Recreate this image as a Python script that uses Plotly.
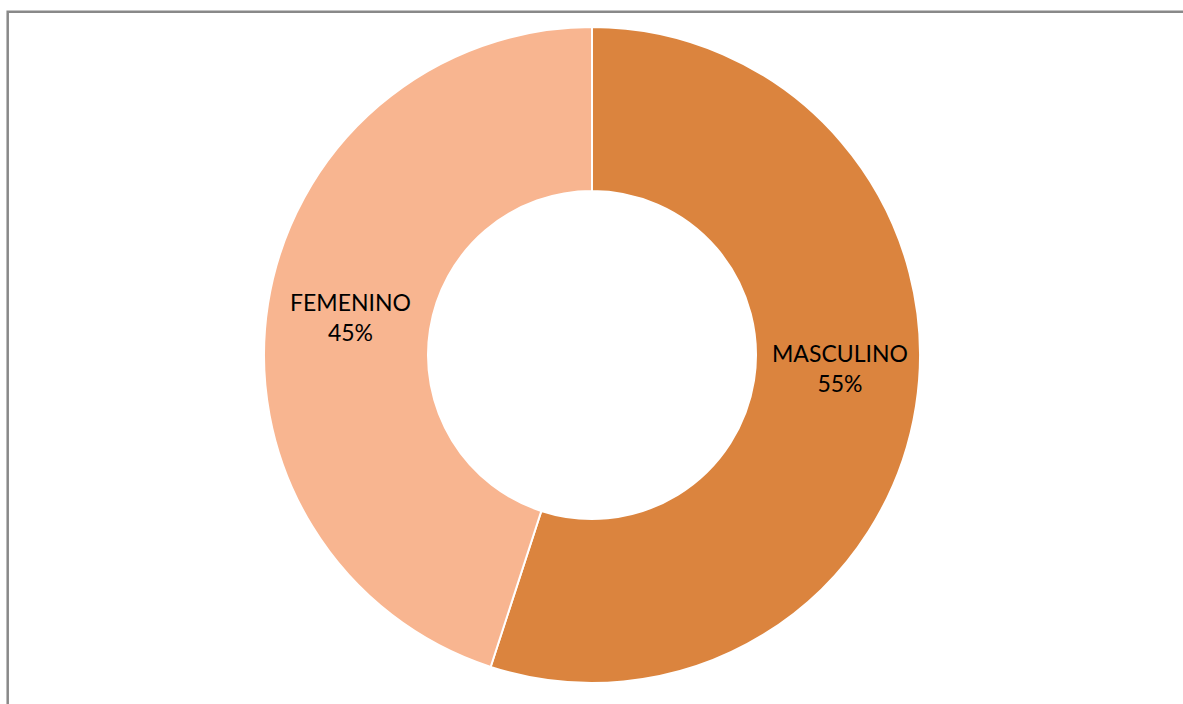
import plotly.graph_objects as go

labels = ["MASCULINO", "FEMENINO"]
values = [55, 45]
colors = ["#DB843E", "#F8B590"]
# label anchor positions (pixel centres in the 1183x704 frame)
label_px = [(839.5, 367.5), (350, 317.5)]

W, H = 1183, 704
total = sum(values)

fig = go.Figure(go.Pie(
    labels=labels,
    values=values,
    hole=0.5,
    sort=False,
    direction="clockwise",
    rotation=0,
    marker=dict(colors=colors, line=dict(color="white", width=2)),
    textinfo="none",
    domain=dict(x=[(592 - 328) / W, (592 + 328) / W], y=[21 / H, 677 / H]),
    showlegend=False,
    hoverinfo="label+percent",
))

annotations = []
for lab, val, (px, py) in zip(labels, values, label_px):
    annotations.append(dict(
        x=px / W, y=1 - py / H, xref="paper", yref="paper",
        text=f"{lab}<br>{round(100 * val / total)}%",
        showarrow=False, xanchor="center", yanchor="middle",
        font=dict(family="Lato", size=23, color="black"),
    ))

fig.update_layout(
    width=W, height=H,
    margin=dict(l=0, r=0, t=0, b=0),
    paper_bgcolor="white",
    plot_bgcolor="white",
    annotations=annotations,
    shapes=[dict(type="rect", xref="paper", yref="paper",
                 x0=7.7 / W, x1=1.01, y0=-0.01, y1=(H - 11.8) / H,
                 line=dict(color="#898989", width=2.5), fillcolor="rgba(0,0,0,0)")],
)

fig.write_html("out.html", config={"displayModeBar": False},
               post_script="document.body.style.margin='0';")
